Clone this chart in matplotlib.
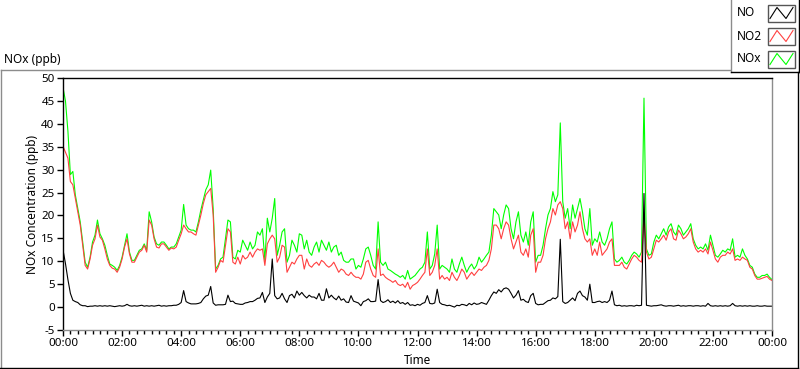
import numpy as np
import matplotlib
matplotlib.use("Agg")
import matplotlib.pyplot as plt
from matplotlib.patches import Rectangle
from matplotlib.ticker import MultipleLocator, FuncFormatter

plt.rcParams['font.family'] = ['Noto Sans', 'DejaVu Sans']
plt.rcParams['axes.unicode_minus'] = False

# 5-minute samples, 00:00 -> 24:00
step_min = 5
hour_ticks = list(range(0, 25, 2))
tick_labels = ["%02d:00" % (h % 24) for h in hour_ticks]
y_ticks = list(range(-5, 51, 5))

no2 = [
    35.1, 33.8, 32.5, 27.4, 26.7, 23.7, 20.8, 17.9, 13.5, 9.1, 8.3, 10.5,
    13.5, 14.9, 17.9, 15.3, 14.6, 12.7, 10.5, 9.1, 8.5, 8.3, 7.6, 8.7,
    10.5, 13.1, 14.9, 11.6, 9.8, 9.8, 10.9, 12.0, 12.4, 13.5, 12.0, 19.0,
    17.9, 14.9, 13.1, 12.9, 13.8, 13.8, 13.1, 12.4, 12.9, 12.7, 13.1, 14.6,
    16.0, 17.9, 17.1, 16.4, 16.4, 16.0, 15.7, 17.9, 20.1, 22.6, 24.5, 25.2,
    25.9, 20.1, 7.6, 8.7, 10.2, 9.8, 13.5, 17.1, 16.4, 9.8, 9.4, 10.9,
    9.4, 11.3, 10.5, 10.9, 12.0, 10.9, 12.0, 12.7, 12.4, 12.7, 9.1, 13.8,
    14.9, 15.7, 14.9, 9.8, 10.9, 13.5, 13.1, 7.6, 8.7, 9.8, 9.4, 10.5,
    11.3, 11.3, 8.3, 10.5, 9.1, 8.7, 9.4, 9.8, 9.1, 10.2, 9.8, 9.1,
    8.7, 9.1, 9.8, 8.7, 7.6, 8.3, 8.0, 7.2, 6.9, 7.6, 6.9, 6.5,
    6.5, 6.1, 7.2, 9.8, 10.2, 8.3, 6.9, 6.5, 12.7, 6.9, 7.2, 6.5,
    6.1, 5.8, 5.4, 5.8, 5.0, 4.7, 5.0, 4.3, 5.4, 3.9, 4.7, 5.0,
    5.4, 6.1, 6.9, 7.6, 12.7, 6.9, 7.6, 9.1, 12.7, 6.1, 6.9, 6.1,
    6.5, 5.8, 7.6, 6.5, 5.8, 6.9, 8.3, 7.6, 6.1, 6.9, 7.6, 6.9,
    7.6, 8.3, 8.0, 8.7, 9.1, 10.2, 12.7, 17.9, 17.9, 17.1, 14.9, 17.1,
    18.6, 17.9, 14.9, 12.7, 14.2, 15.7, 12.0, 11.3, 12.7, 10.9, 15.7, 17.1,
    7.6, 9.8, 9.8, 11.3, 14.9, 17.1, 18.6, 21.5, 20.1, 22.3, 23.0, 21.5,
    17.1, 18.6, 14.9, 18.6, 16.4, 17.9, 20.8, 17.1, 14.9, 14.2, 14.9, 11.3,
    12.7, 11.3, 14.2, 11.3, 12.0, 12.7, 14.2, 14.9, 9.1, 9.1, 9.1, 9.8,
    8.7, 8.3, 9.4, 10.5, 11.3, 10.9, 10.2, 9.8, 20.0, 12.0, 10.5, 10.9,
    12.7, 14.6, 14.2, 14.9, 15.7, 14.6, 16.4, 17.1, 14.9, 14.6, 16.8, 16.0,
    14.9, 15.3, 16.0, 17.1, 14.2, 12.7, 12.0, 12.4, 12.0, 12.7, 11.6, 14.2,
    12.4, 10.5, 9.8, 10.9, 11.3, 11.3, 12.0, 11.6, 12.7, 10.2, 10.5, 10.2,
    10.9, 10.5, 10.2, 8.7, 8.3, 6.9, 6.1, 6.1, 6.3, 6.5, 6.7, 6.1,
    5.8,
]

nox = [
    47.9, 45.0, 38.4, 28.9, 29.6, 24.5, 21.5, 18.6, 14.2, 9.8, 8.7, 10.9,
    14.2, 15.7, 19.0, 16.0, 14.9, 13.5, 11.3, 9.4, 9.1, 8.7, 8.0, 9.1,
    10.9, 13.5, 16.0, 12.0, 10.2, 10.2, 11.3, 12.4, 12.7, 13.8, 12.4, 20.8,
    18.6, 15.3, 13.8, 13.5, 14.2, 14.2, 13.5, 12.7, 13.1, 13.1, 13.8, 15.3,
    16.8, 22.4, 17.9, 17.1, 16.8, 16.8, 16.4, 18.6, 21.2, 23.4, 25.6, 26.7,
    29.9, 21.5, 8.3, 9.1, 10.5, 10.9, 14.9, 19.0, 18.6, 10.9, 10.5, 12.4,
    12.0, 14.6, 13.5, 12.4, 14.2, 12.7, 13.5, 16.4, 15.7, 17.1, 10.2, 19.4,
    16.4, 19.4, 23.7, 11.3, 13.5, 16.4, 17.1, 9.8, 11.3, 14.6, 13.5, 12.0,
    16.0, 15.7, 12.7, 14.6, 12.0, 11.3, 13.1, 14.2, 12.0, 14.6, 13.5, 12.4,
    14.2, 12.0, 13.1, 13.5, 11.3, 12.0, 10.2, 9.8, 9.8, 10.5, 10.5, 8.3,
    9.1, 8.7, 10.5, 12.7, 13.1, 11.3, 9.1, 8.3, 18.6, 9.8, 9.1, 9.8,
    8.3, 8.0, 7.6, 7.2, 6.9, 6.5, 6.9, 6.1, 8.0, 6.1, 6.5, 6.9,
    7.6, 8.3, 8.7, 9.8, 16.4, 8.3, 9.1, 11.6, 17.9, 8.3, 9.1, 8.7,
    8.3, 7.6, 10.5, 8.3, 7.6, 9.4, 10.9, 9.1, 7.6, 8.7, 9.4, 8.3,
    9.1, 10.9, 9.8, 10.5, 11.3, 12.0, 15.7, 21.5, 20.8, 20.1, 17.1, 20.1,
    22.3, 21.5, 17.1, 14.9, 18.6, 20.8, 15.7, 14.2, 16.4, 13.5, 18.6, 20.8,
    9.8, 11.3, 11.3, 13.5, 17.1, 20.1, 21.5, 25.2, 23.0, 24.5, 40.2, 23.0,
    19.4, 21.5, 17.1, 22.3, 19.4, 21.5, 23.7, 20.8, 17.1, 15.7, 21.5, 13.5,
    14.9, 14.2, 16.4, 14.2, 13.5, 14.9, 17.1, 18.6, 10.5, 9.8, 10.2, 10.9,
    9.8, 9.4, 10.2, 11.3, 12.0, 11.6, 10.9, 12.0, 45.6, 12.7, 11.3, 11.6,
    14.2, 15.7, 14.9, 16.0, 17.1, 15.7, 17.5, 18.2, 16.4, 15.7, 17.9, 17.1,
    15.7, 16.4, 17.1, 18.2, 14.9, 13.5, 12.7, 13.1, 12.7, 13.8, 12.4, 15.7,
    13.5, 11.3, 10.9, 11.6, 12.4, 12.0, 12.7, 12.4, 14.9, 10.9, 11.3, 10.9,
    12.7, 11.3, 10.5, 9.1, 8.7, 7.2, 6.5, 6.5, 6.9, 6.9, 7.2, 6.5,
    6.0,
]

no = [
    12.5, 9.5, 6.0, 3.0, 1.5, 1.2, 1.0, 0.5, 0.3, 0.3, 0.1, 0.2,
    0.2, 0.3, 0.2, 0.3, 0.2, 0.3, 0.2, 0.3, 0.2, 0.1, 0.2, 0.3,
    0.2, 0.3, 0.6, 0.3, 0.2, 0.3, 0.2, 0.3, 0.4, 0.2, 0.3, 0.2,
    0.3, 0.2, 0.3, 0.4, 0.2, 0.3, 0.2, 0.3, 0.3, 0.4, 0.4, 0.6,
    1.0, 3.6, 1.2, 0.9, 0.7, 0.7, 0.7, 0.8, 1.0, 1.8, 2.4, 2.6,
    4.5, 0.9, 0.4, 0.5, 0.5, 0.5, 0.6, 2.6, 1.2, 1.3, 0.8, 0.7,
    0.6, 0.6, 0.9, 1.0, 1.2, 1.2, 1.5, 1.9, 2.0, 3.2, 1.0, 2.2,
    3.0, 10.5, 2.5, 1.8, 2.0, 3.0, 1.8, 1.0, 2.5, 2.8, 2.0, 3.5,
    2.6, 3.2, 2.5, 2.0, 2.6, 2.2, 2.2, 1.8, 3.0, 1.5, 1.5, 4.0,
    2.0, 2.6, 2.0, 1.6, 2.4, 1.5, 1.8, 1.1, 1.0, 2.5, 1.3, 1.1,
    0.9, 0.3, 1.2, 1.4, 1.8, 1.2, 1.2, 1.3, 6.0, 1.4, 1.0, 1.2,
    1.6, 1.0, 1.3, 0.9, 1.4, 0.8, 1.0, 0.6, 1.0, 0.4, 0.5, 0.3,
    0.6, 0.4, 0.8, 1.0, 2.5, 0.8, 0.7, 0.9, 3.9, 1.0, 0.6, 0.5,
    0.3, 0.4, 0.2, 0.0, 0.4, 0.3, 0.6, 0.5, 0.3, 0.8, 0.5, 0.9,
    0.6, 0.7, 1.0, 0.8, 0.6, 1.5, 2.5, 3.3, 3.0, 3.8, 3.3, 4.0,
    4.2, 3.9, 3.0, 2.0, 2.6, 3.6, 1.5, 1.7, 1.2, 1.0, 2.5, 3.0,
    0.8, 0.5, 0.6, 0.6, 1.0, 1.4, 1.5, 2.0, 1.8, 2.3, 14.8, 1.2,
    0.8, 1.0, 1.5, 2.0, 1.4, 3.0, 3.5, 2.5, 2.2, 1.5, 5.0, 1.0,
    1.0, 1.2, 1.3, 1.0, 1.2, 1.0, 1.5, 3.5, 0.5, 0.3, 0.4, 0.2,
    0.3, 0.2, 0.3, 0.3, 0.2, 0.4, 0.3, 0.4, 24.8, 0.4, 0.3, 0.2,
    0.3, 0.3, 0.4, 0.5, 0.3, 0.2, 0.3, 0.3, 0.2, 0.3, 0.4, 0.2,
    0.3, 0.2, 0.3, 0.3, 0.2, 0.3, 0.3, 0.2, 0.3, 0.2, 0.8, 0.3,
    0.2, 0.3, 0.2, 0.3, 0.2, 0.3, 0.2, 0.3, 0.8, 0.3, 0.2, 0.3,
    0.2, 0.3, 0.2, 0.3, 0.2, 0.2, 0.3, 0.2, 0.2, 0.3, 0.2, 0.2,
    0.2,
]

series = [("NO", no, "black"), ("NO2", no2, "#ff4040"), ("NOx", nox, "#00ff00")]

hours = np.arange(len(no)) * step_min / 60.0

W, H = 800, 369
fig = plt.figure(figsize=(W / 100, H / 100), dpi=100)
fig.patch.set_facecolor("white")

# plot area in pixel terms
x0, x1, y_top, y_bot = 63, 772, 78, 330
ax = fig.add_axes([x0 / W, 1 - y_bot / H, (x1 - x0) / W, (y_bot - y_top) / H])

# draw NOx first so NO2 and NO sit on top, as in the chart
for name, vals, col in series[::-1]:
    ax.plot(hours, vals, color=col, lw=0.8)

ax.set_xlim(0, 24)
ax.set_ylim(-5, 50)
ax.set_xticks(hour_ticks)
ax.set_xticklabels(tick_labels)
ax.xaxis.set_minor_locator(MultipleLocator(0.25))
ax.set_yticks(y_ticks)
ax.yaxis.set_major_formatter(FuncFormatter(lambda v, p: "%d" % v))
ax.tick_params(axis="both", which="major", direction="out", length=4, width=1,
               labelsize=8.3, pad=2, colors="black")
ax.tick_params(axis="x", which="minor", direction="out", length=3, width=1, color="black")

for side in ("top", "left"):
    ax.spines[side].set_color("black")
for side in ("bottom", "right"):
    ax.spines[side].set_color("#8c8c8c")
for sp in ax.spines.values():
    sp.set_linewidth(1)

fig.text(33 / W, 1 - 204 / H, "NOx Concentration (ppb)", rotation=90,
         ha="center", va="center", fontsize=8.5)
fig.text(417 / W, 1 - 360 / H, "Time", ha="center", va="center", fontsize=8.5)
fig.text(4 / W, 1 - 59 / H, "NOx (ppb)", ha="left", va="center", fontsize=8.5)

# overlay in pixel coordinates for the panel frame and legend
ov = fig.add_axes([0, 0, 1, 1], zorder=5)
ov.set_xlim(0, W)
ov.set_ylim(H, 0)
ov.axis("off")
ov.patch.set_alpha(0)

ov.plot([0.5, 730], [69.5, 69.5], color="#8c8c8c", lw=1)
ov.plot([0.5, 0.5], [69.5, 368], color="#8c8c8c", lw=1)
ov.plot([0, 798], [367.5, 367.5], color="black", lw=1)
ov.plot([797.5, 797.5], [72, 368], color="black", lw=1)

# legend box
ov.add_patch(Rectangle((730.5, 0), 68, 72, facecolor="white", edgecolor="none"))
ov.plot([730.5, 730.5], [0, 72], color="#8c8c8c", lw=1)
ov.plot([730.5, 798.5], [72, 72], color="black", lw=1)
ov.plot([798.5, 798.5], [0, 72], color="black", lw=1)

for i, (name, _vals, col) in enumerate(series):
    cy = 13 + i * 23
    ov.text(737, cy, name, ha="left", va="center", fontsize=8.5)
    bx, by, bw, bh = 768, cy - 8.5, 27, 17
    ov.add_patch(Rectangle((bx, by), bw, bh, facecolor="white",
                           edgecolor="#555555", lw=1))
    # zigzag sample line: low, high, low, high
    zx = [bx + 2, bx + 9, bx + 18, bx + 25]
    zy = [by + 14, by + 3, by + 14, by + 3]
    ov.plot(zx, zy, color=col, lw=0.8)

fig.savefig("out.png", dpi=100)
